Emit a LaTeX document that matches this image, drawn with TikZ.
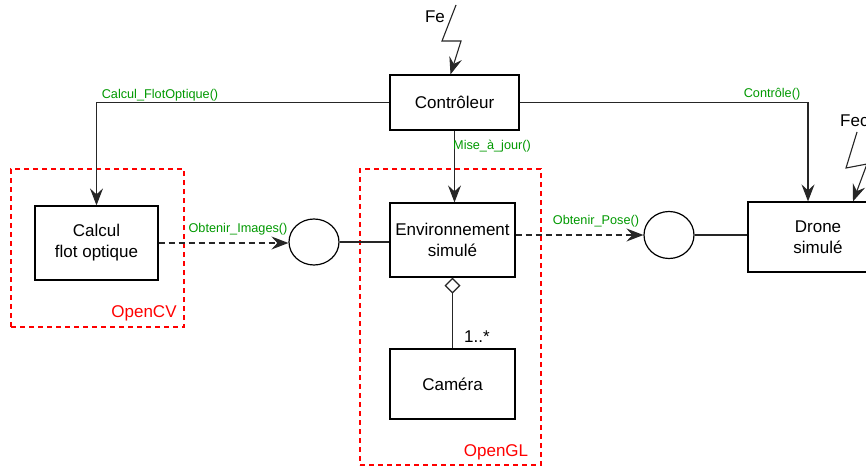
\documentclass[tikz,border=0pt]{standalone}
\usepackage{fontspec}
\setmainfont{Liberation Sans}
\usetikzlibrary{arrows.meta,shapes.geometric}
\definecolor{lblgreen}{RGB}{0,153,0}
\definecolor{regred}{RGB}{255,0,0}
\tikzset{
  box/.style={draw=black, line width=1.2pt, fill=white, align=center, inner sep=0pt,
    font=\fontsize{17}{21}\selectfont},
  region/.style={draw=regred, line width=1.1pt, dash pattern=on 5pt off 4pt, inner sep=0pt},
  iface/.style={draw=black, line width=1.2pt, ellipse, fill=white, inner sep=0pt},
  conn/.style={draw=black!85, line width=1.2pt},
  arr/.style={conn, -{Stealth[length=17pt,width=13pt,inset=6pt]}},
  darr/.style={arr, line width=1.1pt, dash pattern=on 6pt off 4pt},
  glabel/.style={text=lblgreen, font=\fontsize{12.7}{14}\selectfont, inner sep=0pt},
  rlabel/.style={text=regred, font=\fontsize{17}{20}\selectfont, inner sep=0pt},
  blabel/.style={text=black, font=\fontsize{17}{20}\selectfont, inner sep=0pt},
}
\begin{document}
\begin{tikzpicture}[x=1pt,y=-1pt]
\clip (0,0) rectangle (866,468);
\fill[white] (0,0) rectangle (866,468);
% regions
\node[region, minimum width=173pt, minimum height=158pt] (cv) at (97.5,248) {};
\node[region, minimum width=181pt, minimum height=296pt] (gl) at (450.5,317) {};
\node[rlabel] (cvl) at (144,313) {OpenCV};
\node[rlabel] (gll) at (496,452) {OpenGL};
% boxes
\node[box, minimum width=129pt, minimum height=55pt] (ctrl) at (454.5,102.5) {Contrôleur};
\node[box, minimum width=123pt, minimum height=74pt] (calc) at (96.5,243) {Calcul\\flot optique};
\node[box, minimum width=125pt, minimum height=74pt] (env) at (452.5,240) {Environnement\\simulé};
\node[box, minimum width=125pt, minimum height=70pt] (cam) at (452.5,384) {Caméra};
\node[box, minimum width=140pt, minimum height=70pt] (drone) at (818,237) {Drone\\simulé};
\node[iface, minimum width=50pt, minimum height=46pt] (c1) at (314,242) {};
\node[iface, minimum width=50pt, minimum height=47pt] (c2) at (669,235) {};
% connectors
\draw[arr] (ctrl.west) -| (calc.north);
\draw[arr] (ctrl.east) -| ([xshift=-10pt]drone.north);
\draw[arr] (ctrl.south) -- (ctrl.south |- env.north);
\draw[darr] (calc.east) -- (c1.west |- calc.east);
\draw[conn] (c1.east) -- (env.west |- c1.east);
\draw[darr] (env.east |- c2.west) -- (c2.west);
\draw[conn] (c2.east) -- (drone.west |- c2.east);
\draw[conn, {Diamond[open,length=16pt,width=16pt,line width=1.2pt]}-] (env.south) -- (env.south |- cam.north);
% lightning
\coordinate (fe1) at (456,5);
\coordinate (fe2) at (442,41);
\coordinate (fe3) at (461,41);
\draw[arr, line width=1.1pt] (fe1) -- (fe2) -- (fe3) -- ([xshift=-4pt]ctrl.north);
\coordinate (fd1) at (857,132);
\coordinate (fd2) at (846,168);
\coordinate (fd3) at (867,164);
\draw[arr, line width=1.1pt] (fd1) -- (fd2) -- (fd3) -- ([xshift=35pt]drone.north);
% labels
\node[blabel] (fe) at (435,17) {Fe};
\node[blabel, anchor=west] (fec) at (840,121) {Fec};
\node[glabel] (l1) at (160,95) {Calcul\_FlotOptique()};
\node[glabel] (l2) at (772,94) {Contrôle()};
\node[glabel] (l3) at (492,146) {Mise\_à\_jour()};
\node[glabel] (l4) at (238,229) {Obtenir\_Images()};
\node[glabel] (l5) at (596,221) {Obtenir\_Pose()};
\node[blabel] (mult) at (477,337) {1..*};
\end{tikzpicture}
\end{document}
